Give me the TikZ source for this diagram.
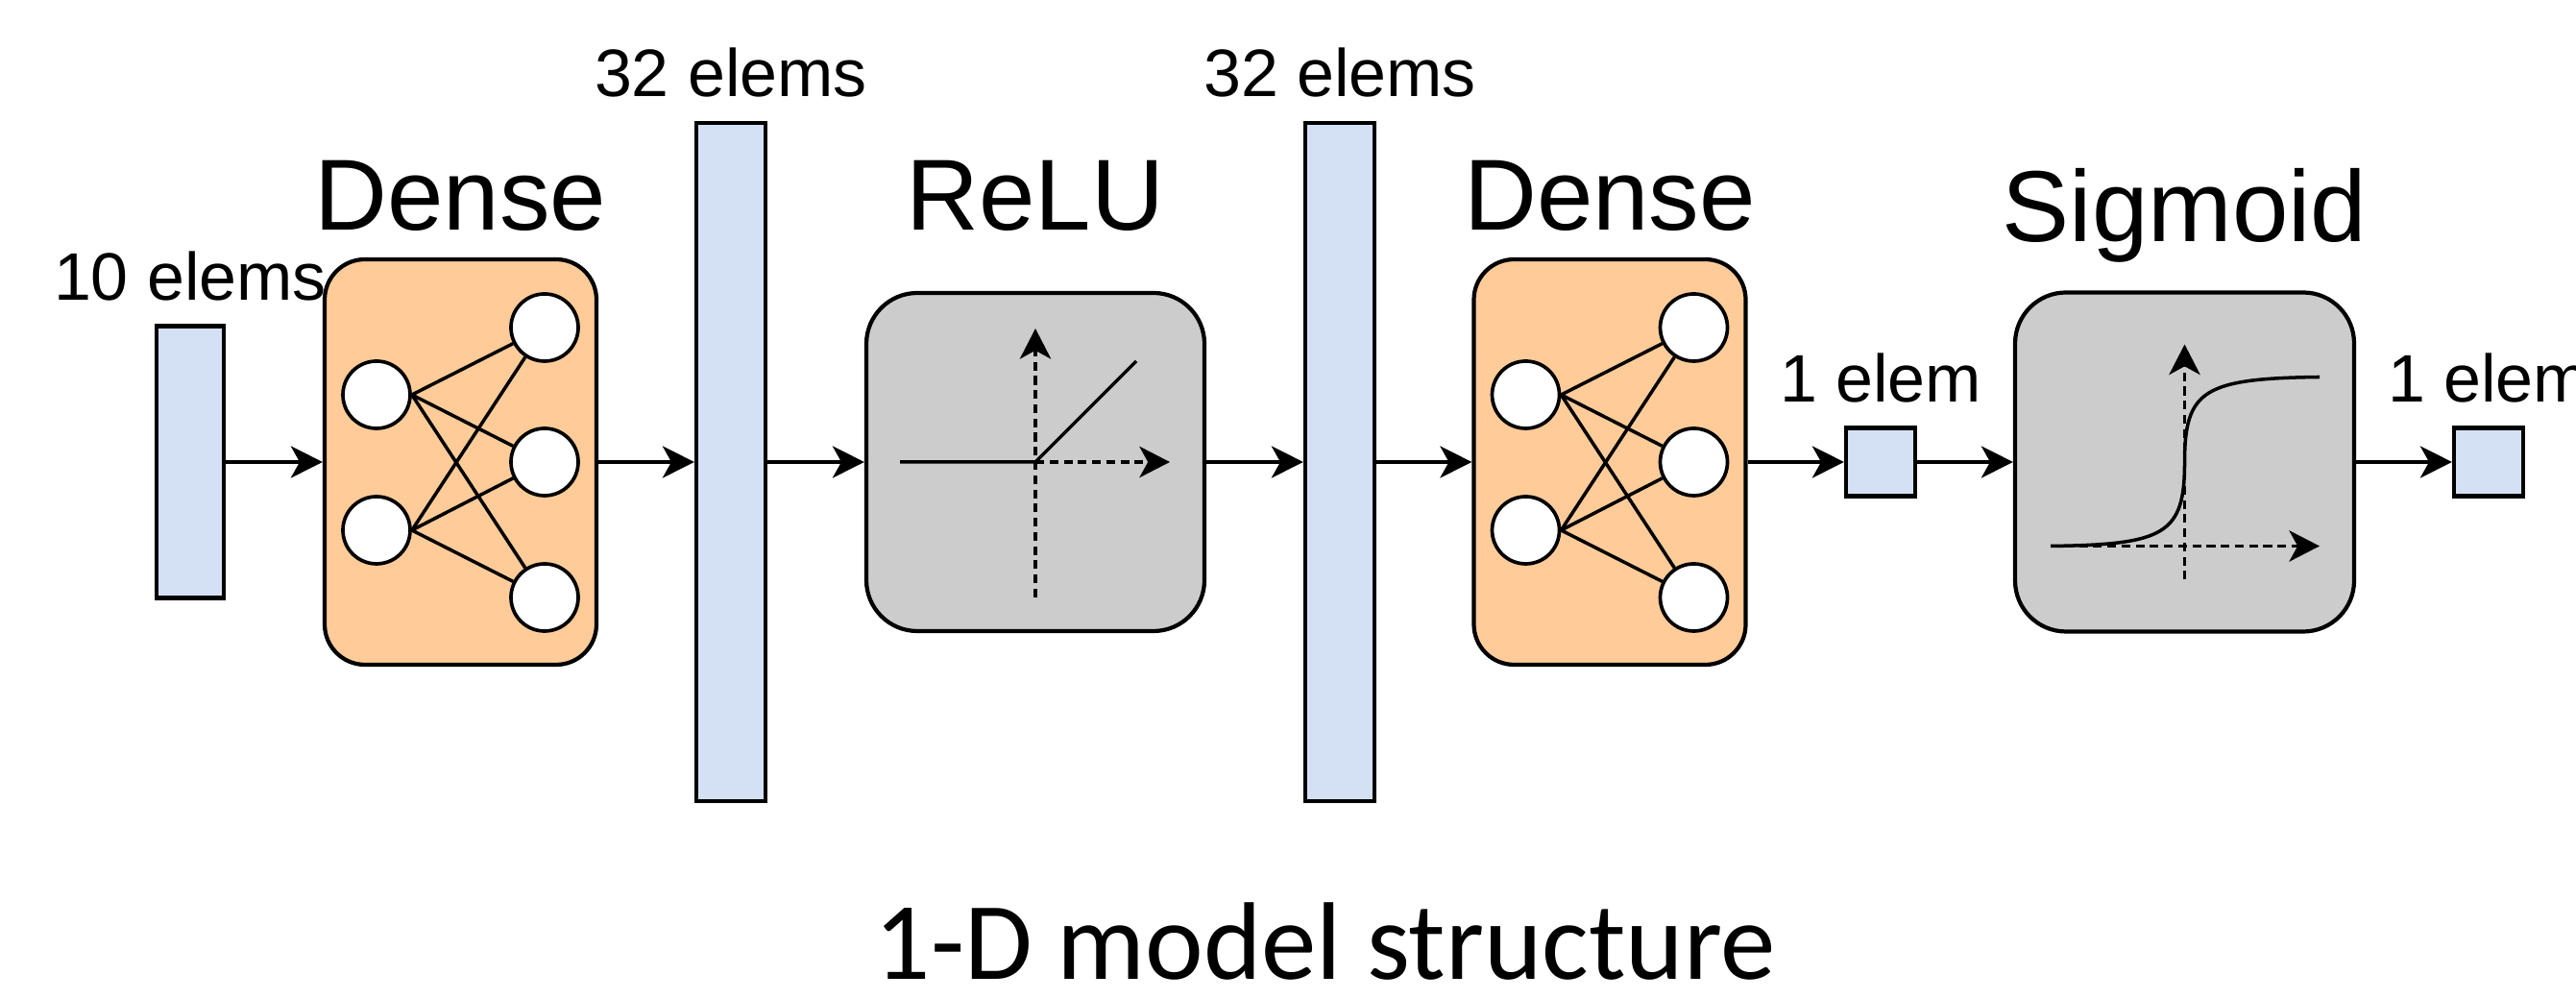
\documentclass[tikz,border=0pt]{standalone}
\usepackage{fontspec}
\setmainfont{Liberation Sans}
\newfontfamily\captionfont{Carlito}
\usetikzlibrary{arrows.meta}

\definecolor{vecblue}{HTML}{D4E1F5}
\definecolor{denseorange}{HTML}{FFCC99}
\definecolor{actgrey}{HTML}{CCCCCC}

\begin{document}
\begin{tikzpicture}[
    vec/.style={draw, fill=vecblue, line width=1.2pt, inner sep=0pt},
    dense/.style={draw, fill=denseorange, rounded corners=0.42cm, line width=1.2pt,
                  minimum width=2.83cm, minimum height=4.22cm},
    act/.style={draw, fill=actgrey, rounded corners=0.53cm, line width=1.2pt,
                minimum size=3.52cm},
    neuron/.style={circle, draw, fill=white, line width=1.05pt, minimum size=0.70cm, inner sep=0pt},
    edge/.style={line width=1pt},
    conn/.style={line width=1pt, -{Stealth[length=9.4pt, width=9.4pt, inset=2.6pt]}},
    axis/.style={line width=1pt, dash pattern=on 2.6pt off 1.6pt,
                 -{Stealth[length=9pt, width=9.2pt, inset=2.5pt]}},
    lbl/.style={font=\fontsize{19.9}{24}\selectfont, anchor=base, inner sep=0pt},
    title/.style={font=\fontsize{29.9}{36}\selectfont, anchor=base, inner sep=0pt}
  ]
  \useasboundingbox (0,0) rectangle (26.82,10.40);

  % Draw vectors and layers
  \node[vec, minimum width=0.70cm, minimum height=2.83cm] (in) at (1.98, 5.59) {};
  \node[dense] (dense1) at (4.795, 5.59) {};
  \node[vec, minimum width=0.72cm, minimum height=7.06cm] (mid1) at (7.61, 5.59) {};
  \node[act] (relu) at (10.78, 5.59) {};
  \node[vec, minimum width=0.72cm, minimum height=7.06cm] (mid2) at (13.95, 5.59) {};
  \node[dense] (dense2) at (16.76, 5.59) {};
  \node[vec, minimum width=0.72cm, minimum height=0.71cm] (out1) at (19.58, 5.59) {};
  \node[act, minimum size=3.53cm] (sig) at (22.745, 5.59) {};
  \node[vec, minimum width=0.72cm, minimum height=0.71cm] (out2) at (25.91, 5.59) {};

  % Draw sizes above the vectors
  \node[lbl] (in-lbl) at ([yshift=0.25cm]in.north) {10 elems};
  \node[lbl] (mid1-lbl) at ([yshift=0.25cm]mid1.north) {32 elems};
  \node[lbl] (mid2-lbl) at ([yshift=0.25cm]mid2.north) {32 elems};
  \node[lbl] (out1-lbl) at ([yshift=0.25cm]out1.north) {1 elem};
  \node[lbl] (out2-lbl) at ([yshift=0.25cm]out2.north) {1 elem};

  % Draw layer names
  \node[title] (dense1-title) at (4.795, 8.00) {Dense};
  \node[title] (relu-title) at (10.78, 8.00) {ReLU};
  \node[title] (dense2-title) at (16.76, 8.00) {Dense};
  \node[title] (sig-title) at (22.745, 7.88) {Sigmoid};

  % Draw neurons inside each dense layer
  \foreach \b in {dense1, dense2} {
    \foreach \i/\dy in {1/0.70, 2/-0.71}
      \node[neuron] (\b-l\i) at ([shift={(-0.875,\dy)}]\b.center) {};
    \foreach \j/\dy in {1/1.40, 2/0, 3/-1.41}
      \node[neuron] (\b-r\j) at ([shift={(0.875,\dy)}]\b.center) {};
    \foreach \i in {1,2}
      \foreach \j in {1,2,3}
        \draw[edge] (\b-l\i.east) -- (\b-r\j);
  }

  % Draw ReLU curve
  \begin{scope}[shift={(10.78,5.59)}]
    \draw[axis] (0,-1.41) -- (0,1.39);
    \draw[axis] (0,0) -- (1.40,0);
    \draw[edge] (-1.41,0) -- (0,0) -- (1.05,1.05);
  \end{scope}

  % Draw sigmoid curve
  \begin{scope}[shift={(22.745,5.59)}]
    \draw[axis] (0,-1.225) -- (0,1.225);
    \draw[axis] (-1.395,-0.875) -- (1.405,-0.875);
    \draw[edge] (-1.395,-0.875) .. controls (-0.2,-0.86) and (0,-0.75) .. (0,0)
                .. controls (0,0.75) and (0.2,0.87) .. (1.405,0.885);
  \end{scope}

  % Draw connections
  \foreach \a/\c in {in/dense1, dense1/mid1, mid1/relu, relu/mid2,
                     mid2/dense2, dense2/out1, out1/sig, sig/out2}
    \draw[conn] (\a) -- (\c);

  % Draw caption
  \node[font=\captionfont\fontsize{32.7}{39}\selectfont, anchor=base, inner sep=0pt]
    (caption) at (13.80, 0.20) {1-D model structure};
\end{tikzpicture}
\end{document}
